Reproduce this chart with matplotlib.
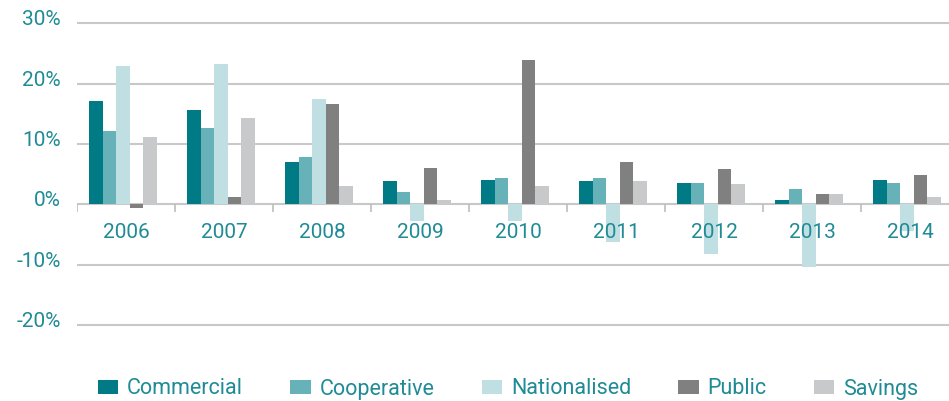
"""Growth by bank type, 2006-2014: grouped bar chart."""

import matplotlib
matplotlib.use("Agg")
import matplotlib.pyplot as plt
import matplotlib.transforms as mtransforms
import numpy as np

years = ["2006", "2007", "2008", "2009", "2010", "2011", "2012", "2013", "2014"]
commercial = [17.2, 15.7, 7.1, 3.8, 4.0, 3.8, 3.5, 0.7, 4.0]
cooperative = [12.1, 12.6, 7.9, 2.1, 4.3, 4.3, 3.5, 2.6, 3.5]
nationalised = [23.0, 23.3, 17.5, -2.8, -2.8, -6.3, -8.2, -10.4, -4.4]
public = [-0.6, 1.2, 16.7, 6.1, 24.0, 7.1, 5.8, 1.7, 4.8]
savings = [11.2, 14.4, 3.0, 0.8, 3.0, 3.8, 3.3, 1.7, 1.2]

series_names = ["Commercial", "Cooperative", "Nationalised", "Public", "Savings"]
y_ticks = [-20, -10, 0, 10, 20, 30]

colors = ["#007a84", "#67b1b9", "#c0dfe2", "#7f807f", "#c8c9cb"]
text_color = "#1f8b95"
grid_color = "#c8c8c8"

plt.rcParams["font.family"] = ["Roboto", "DejaVu Sans"]

fig = plt.figure(figsize=(9.49, 4.01), dpi=100)
# axes placed in pixel terms: left edge at x=77, y range -22..32
ax = fig.add_axes([77 / 949, 1 - 337 / 401, 1 - 77 / 949, (337 - 11.4) / 401])

x = np.arange(len(years))
width = 0.137
shift = -0.03
all_series = [commercial, cooperative, nationalised, public, savings]
handles = []
for k, (name, vals, color) in enumerate(zip(series_names, all_series, colors)):
    b = ax.bar(x + (k - 2) * width + shift, vals, width, color=color,
               label=name, zorder=2, linewidth=0)
    handles.append(b)

# gridlines + zero line
for t in y_ticks:
    ax.axhline(t, color=grid_color, linewidth=1.5, zorder=1)

# small separators under the zero line
ax.vlines(np.arange(len(years) + 1) - 0.5, -1.35, 0, color="#bdbdbd",
          linewidth=1.2, zorder=1)

# year labels sit just under the zero line, over the negative bars
for xi, yr in zip(x, years):
    ax.text(xi, -5.5, yr, ha="center", va="baseline", fontsize=15,
            color=text_color, zorder=5)

ax.set_xlim(-0.5, -0.5 + 872 / 98)
ax.set_ylim(-22, 32)
ax.set_xticks([])
ax.set_yticks(y_ticks)
ax.set_yticklabels([f"{t}%" for t in y_ticks], fontsize=15, color=text_color,
                   va="baseline")
ax.tick_params(axis="y", length=0, pad=11.5)
offset = mtransforms.ScaledTranslation(0, -2 / 100, fig.dpi_scale_trans)
for lbl in ax.get_yticklabels():
    lbl.set_transform(lbl.get_transform() + offset)
for s in ax.spines.values():
    s.set_visible(False)

leg = fig.legend(handles=handles, loc="center left",
                 bbox_to_anchor=(98 / 949, 1 - 389 / 401), ncol=5,
                 frameon=False, fontsize=15.5, handlelength=0.95,
                 handleheight=0.6, handletextpad=0.4, columnspacing=2.2,
                 borderpad=0, borderaxespad=0)
for t in leg.get_texts():
    t.set_color(text_color)

fig.savefig("out.png", dpi=100)
plt.close(fig)
